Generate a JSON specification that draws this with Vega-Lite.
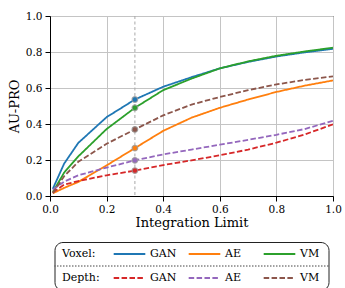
{
  "$schema": "https://vega.github.io/schema/vega-lite/v6.json",
  "padding": {"left": 7, "top": 10, "right": 3, "bottom": 0},
  "config": {
    "font": "DejaVu Serif",
    "view": {"stroke": null},
    "axis": {
      "labelFont": "DejaVu Serif",
      "titleFont": "DejaVu Serif",
      "labelFontSize": 10.5,
      "titleFontSize": 13,
      "titleFontWeight": "normal",
      "labelColor": "black",
      "titleColor": "black",
      "tickColor": "black",
      "domainColor": "black",
      "tickSize": 5,
      "labelPadding": 3,
      "gridColor": "#c4c4c4",
      "gridWidth": 1
    },
    "text": {"font": "DejaVu Serif"}
  },
  "datasets": {
    "curves": [
      {"x": 0.01, "y": 0.04, "series": "Voxel GAN", "source": "Voxel"},
      {"x": 0.05, "y": 0.18, "series": "Voxel GAN", "source": "Voxel"},
      {"x": 0.1, "y": 0.295, "series": "Voxel GAN", "source": "Voxel"},
      {"x": 0.2, "y": 0.438, "series": "Voxel GAN", "source": "Voxel"},
      {"x": 0.3, "y": 0.536, "series": "Voxel GAN", "source": "Voxel"},
      {"x": 0.4, "y": 0.607, "series": "Voxel GAN", "source": "Voxel"},
      {"x": 0.5, "y": 0.66, "series": "Voxel GAN", "source": "Voxel"},
      {"x": 0.6, "y": 0.709, "series": "Voxel GAN", "source": "Voxel"},
      {"x": 0.7, "y": 0.745, "series": "Voxel GAN", "source": "Voxel"},
      {"x": 0.8, "y": 0.775, "series": "Voxel GAN", "source": "Voxel"},
      {"x": 0.9, "y": 0.798, "series": "Voxel GAN", "source": "Voxel"},
      {"x": 1.0, "y": 0.818, "series": "Voxel GAN", "source": "Voxel"},
      {"x": 0.01, "y": 0.015, "series": "Voxel AE", "source": "Voxel"},
      {"x": 0.05, "y": 0.045, "series": "Voxel AE", "source": "Voxel"},
      {"x": 0.1, "y": 0.078, "series": "Voxel AE", "source": "Voxel"},
      {"x": 0.2, "y": 0.17, "series": "Voxel AE", "source": "Voxel"},
      {"x": 0.3, "y": 0.266, "series": "Voxel AE", "source": "Voxel"},
      {"x": 0.4, "y": 0.362, "series": "Voxel AE", "source": "Voxel"},
      {"x": 0.5, "y": 0.435, "series": "Voxel AE", "source": "Voxel"},
      {"x": 0.6, "y": 0.49, "series": "Voxel AE", "source": "Voxel"},
      {"x": 0.7, "y": 0.536, "series": "Voxel AE", "source": "Voxel"},
      {"x": 0.8, "y": 0.578, "series": "Voxel AE", "source": "Voxel"},
      {"x": 0.9, "y": 0.613, "series": "Voxel AE", "source": "Voxel"},
      {"x": 1.0, "y": 0.642, "series": "Voxel AE", "source": "Voxel"},
      {"x": 0.01, "y": 0.022, "series": "Voxel VM", "source": "Voxel"},
      {"x": 0.05, "y": 0.13, "series": "Voxel VM", "source": "Voxel"},
      {"x": 0.1, "y": 0.22, "series": "Voxel VM", "source": "Voxel"},
      {"x": 0.2, "y": 0.372, "series": "Voxel VM", "source": "Voxel"},
      {"x": 0.3, "y": 0.49, "series": "Voxel VM", "source": "Voxel"},
      {"x": 0.4, "y": 0.588, "series": "Voxel VM", "source": "Voxel"},
      {"x": 0.5, "y": 0.652, "series": "Voxel VM", "source": "Voxel"},
      {"x": 0.6, "y": 0.709, "series": "Voxel VM", "source": "Voxel"},
      {"x": 0.7, "y": 0.748, "series": "Voxel VM", "source": "Voxel"},
      {"x": 0.8, "y": 0.779, "series": "Voxel VM", "source": "Voxel"},
      {"x": 0.9, "y": 0.803, "series": "Voxel VM", "source": "Voxel"},
      {"x": 1.0, "y": 0.824, "series": "Voxel VM", "source": "Voxel"},
      {"x": 0.01, "y": 0.02, "series": "Depth GAN", "source": "Depth"},
      {"x": 0.05, "y": 0.063, "series": "Depth GAN", "source": "Depth"},
      {"x": 0.1, "y": 0.083, "series": "Depth GAN", "source": "Depth"},
      {"x": 0.2, "y": 0.115, "series": "Depth GAN", "source": "Depth"},
      {"x": 0.3, "y": 0.141, "series": "Depth GAN", "source": "Depth"},
      {"x": 0.4, "y": 0.172, "series": "Depth GAN", "source": "Depth"},
      {"x": 0.5, "y": 0.198, "series": "Depth GAN", "source": "Depth"},
      {"x": 0.6, "y": 0.226, "series": "Depth GAN", "source": "Depth"},
      {"x": 0.7, "y": 0.258, "series": "Depth GAN", "source": "Depth"},
      {"x": 0.8, "y": 0.296, "series": "Depth GAN", "source": "Depth"},
      {"x": 0.9, "y": 0.342, "series": "Depth GAN", "source": "Depth"},
      {"x": 1.0, "y": 0.398, "series": "Depth GAN", "source": "Depth"},
      {"x": 0.01, "y": 0.035, "series": "Depth AE", "source": "Depth"},
      {"x": 0.05, "y": 0.08, "series": "Depth AE", "source": "Depth"},
      {"x": 0.1, "y": 0.115, "series": "Depth AE", "source": "Depth"},
      {"x": 0.2, "y": 0.158, "series": "Depth AE", "source": "Depth"},
      {"x": 0.3, "y": 0.198, "series": "Depth AE", "source": "Depth"},
      {"x": 0.4, "y": 0.231, "series": "Depth AE", "source": "Depth"},
      {"x": 0.5, "y": 0.258, "series": "Depth AE", "source": "Depth"},
      {"x": 0.6, "y": 0.285, "series": "Depth AE", "source": "Depth"},
      {"x": 0.7, "y": 0.312, "series": "Depth AE", "source": "Depth"},
      {"x": 0.8, "y": 0.34, "series": "Depth AE", "source": "Depth"},
      {"x": 0.9, "y": 0.372, "series": "Depth AE", "source": "Depth"},
      {"x": 1.0, "y": 0.418, "series": "Depth AE", "source": "Depth"},
      {"x": 0.01, "y": 0.015, "series": "Depth VM", "source": "Depth"},
      {"x": 0.05, "y": 0.11, "series": "Depth VM", "source": "Depth"},
      {"x": 0.1, "y": 0.19, "series": "Depth VM", "source": "Depth"},
      {"x": 0.2, "y": 0.29, "series": "Depth VM", "source": "Depth"},
      {"x": 0.3, "y": 0.37, "series": "Depth VM", "source": "Depth"},
      {"x": 0.4, "y": 0.448, "series": "Depth VM", "source": "Depth"},
      {"x": 0.5, "y": 0.508, "series": "Depth VM", "source": "Depth"},
      {"x": 0.6, "y": 0.55, "series": "Depth VM", "source": "Depth"},
      {"x": 0.7, "y": 0.588, "series": "Depth VM", "source": "Depth"},
      {"x": 0.8, "y": 0.62, "series": "Depth VM", "source": "Depth"},
      {"x": 0.9, "y": 0.645, "series": "Depth VM", "source": "Depth"},
      {"x": 1.0, "y": 0.665, "series": "Depth VM", "source": "Depth"}
    ],
    "legendItems": [
      {"source": "Voxel", "model": "GAN", "series": "Voxel GAN"},
      {"source": "Voxel", "model": "AE", "series": "Voxel AE"},
      {"source": "Voxel", "model": "VM", "series": "Voxel VM"},
      {"source": "Depth", "model": "GAN", "series": "Depth GAN"},
      {"source": "Depth", "model": "AE", "series": "Depth AE"},
      {"source": "Depth", "model": "VM", "series": "Depth VM"}
    ]
  },
  "bounds": "flush",
  "center": true,
  "spacing": 46,
  "vconcat": [
    {
      "width": 283,
      "height": 180,
      "view": {"stroke": "black", "strokeWidth": 1},
      "layer": [
        {
          "data": {"values": [{"limit": 0.3}]},
          "mark": {"type": "rule", "color": "#a8a8a8", "strokeDash": [3, 2.5], "strokeWidth": 1},
          "encoding": {
            "x": {"field": "limit", "type": "quantitative"}
          }
        },
        {
          "data": {"name": "curves"},
          "mark": {"type": "line", "strokeWidth": 1.8, "clip": true},
          "encoding": {
            "x": {
              "field": "x", "type": "quantitative",
              "scale": {"domain": [0, 1], "nice": false},
              "axis": {"title": "Integration Limit", "tickCount": 5, "format": ".1f", "titlePadding": 2, "labelFlush": false, "labelOverlap": false, "labelFont": "DejaVu Serif", "titleFont": "DejaVu Serif"}
            },
            "y": {
              "field": "y", "type": "quantitative",
              "scale": {"domain": [0, 1], "nice": false},
              "axis": {"title": "AU-PRO", "tickCount": 5, "format": ".1f", "titlePadding": 4, "labelOverlap": false, "labelSeparation": 0, "labelFont": "DejaVu Serif", "titleFont": "DejaVu Serif"}
            },
            "color": {
              "field": "series", "type": "nominal",
              "scale": {
                "domain": ["Voxel GAN", "Voxel AE", "Voxel VM", "Depth GAN", "Depth AE", "Depth VM"],
                "range": ["#1f77b4", "#ff7f0e", "#2ca02c", "#d62728", "#9467bd", "#8c564b"]
              },
              "legend": null
            },
            "strokeDash": {
              "field": "source", "type": "nominal",
              "scale": {"domain": ["Voxel", "Depth"], "range": [[1, 0], [5.5, 2.4]]},
              "legend": null
            }
          }
        },
        {
          "data": {"name": "curves"},
          "transform": [{"filter": {"field": "x", "equal": 0.3}}],
          "mark": {"type": "point", "filled": true, "size": 32, "opacity": 1, "stroke": "#9a9a9a", "strokeWidth": 1.2, "strokeOpacity": 0.8},
          "encoding": {
            "x": {"field": "x", "type": "quantitative"},
            "y": {"field": "y", "type": "quantitative"},
            "color": {"field": "series", "type": "nominal", "legend": null}
          }
        }
      ]
    },
    {
      "width": 274,
      "height": 48,
      "view": {"stroke": "#222222", "strokeWidth": 1, "cornerRadius": 8},
      "layer": [
        {
          "data": {"values": [{"source": "Depth"}]},
          "mark": {"type": "rule", "color": "#444444", "strokeDash": [1.5, 1.5], "strokeWidth": 1},
          "encoding": {
            "y": {
              "field": "source", "type": "nominal", "bandPosition": 0,
              "scale": {"type": "band", "domain": ["Voxel", "Depth"], "paddingInner": 0, "paddingOuter": 0},
              "axis": null
            }
          }
        },
        {
          "data": {"name": "legendItems"},
          "mark": {"type": "point", "shape": "M-1,0L1,0", "size": 1000, "filled": false, "strokeWidth": 1.8, "opacity": 1},
          "encoding": {
            "x": {
              "field": "model", "type": "nominal",
              "scale": {"type": "point", "domain": ["head", "GAN", "AE", "VM"], "padding": 0.3267, "align": 0},
              "axis": null
            },
            "y": {"field": "source", "type": "nominal", "axis": null},
            "stroke": {
              "field": "series", "type": "nominal",
              "scale": {
                "domain": ["Voxel GAN", "Voxel AE", "Voxel VM", "Depth GAN", "Depth AE", "Depth VM"],
                "range": ["#1f77b4", "#ff7f0e", "#2ca02c", "#d62728", "#9467bd", "#8c564b"]
              },
              "legend": null
            },
            "strokeDash": {
              "field": "source", "type": "nominal",
              "scale": {"domain": ["Voxel", "Depth"], "range": [[1, 0], [5.5, 2.4]]},
              "legend": null
            }
          }
        },
        {
          "data": {"name": "legendItems"},
          "mark": {"type": "text", "align": "left", "baseline": "middle", "dx": 20.5, "fontSize": 11, "color": "black", "font": "DejaVu Serif"},
          "encoding": {
            "x": {"field": "model", "type": "nominal", "axis": null},
            "y": {"field": "source", "type": "nominal", "axis": null},
            "text": {"field": "model"}
          }
        },
        {
          "data": {"values": [
            {"source": "Voxel", "model": "head", "label": "Voxel:"},
            {"source": "Depth", "model": "head", "label": "Depth:"}
          ]},
          "mark": {"type": "text", "align": "left", "baseline": "middle", "dx": 7.5, "fontSize": 11, "color": "black", "font": "DejaVu Serif"},
          "encoding": {
            "x": {"field": "model", "type": "nominal", "axis": null},
            "y": {"field": "source", "type": "nominal", "axis": null},
            "text": {"field": "label"}
          }
        }
      ]
    }
  ]
}
